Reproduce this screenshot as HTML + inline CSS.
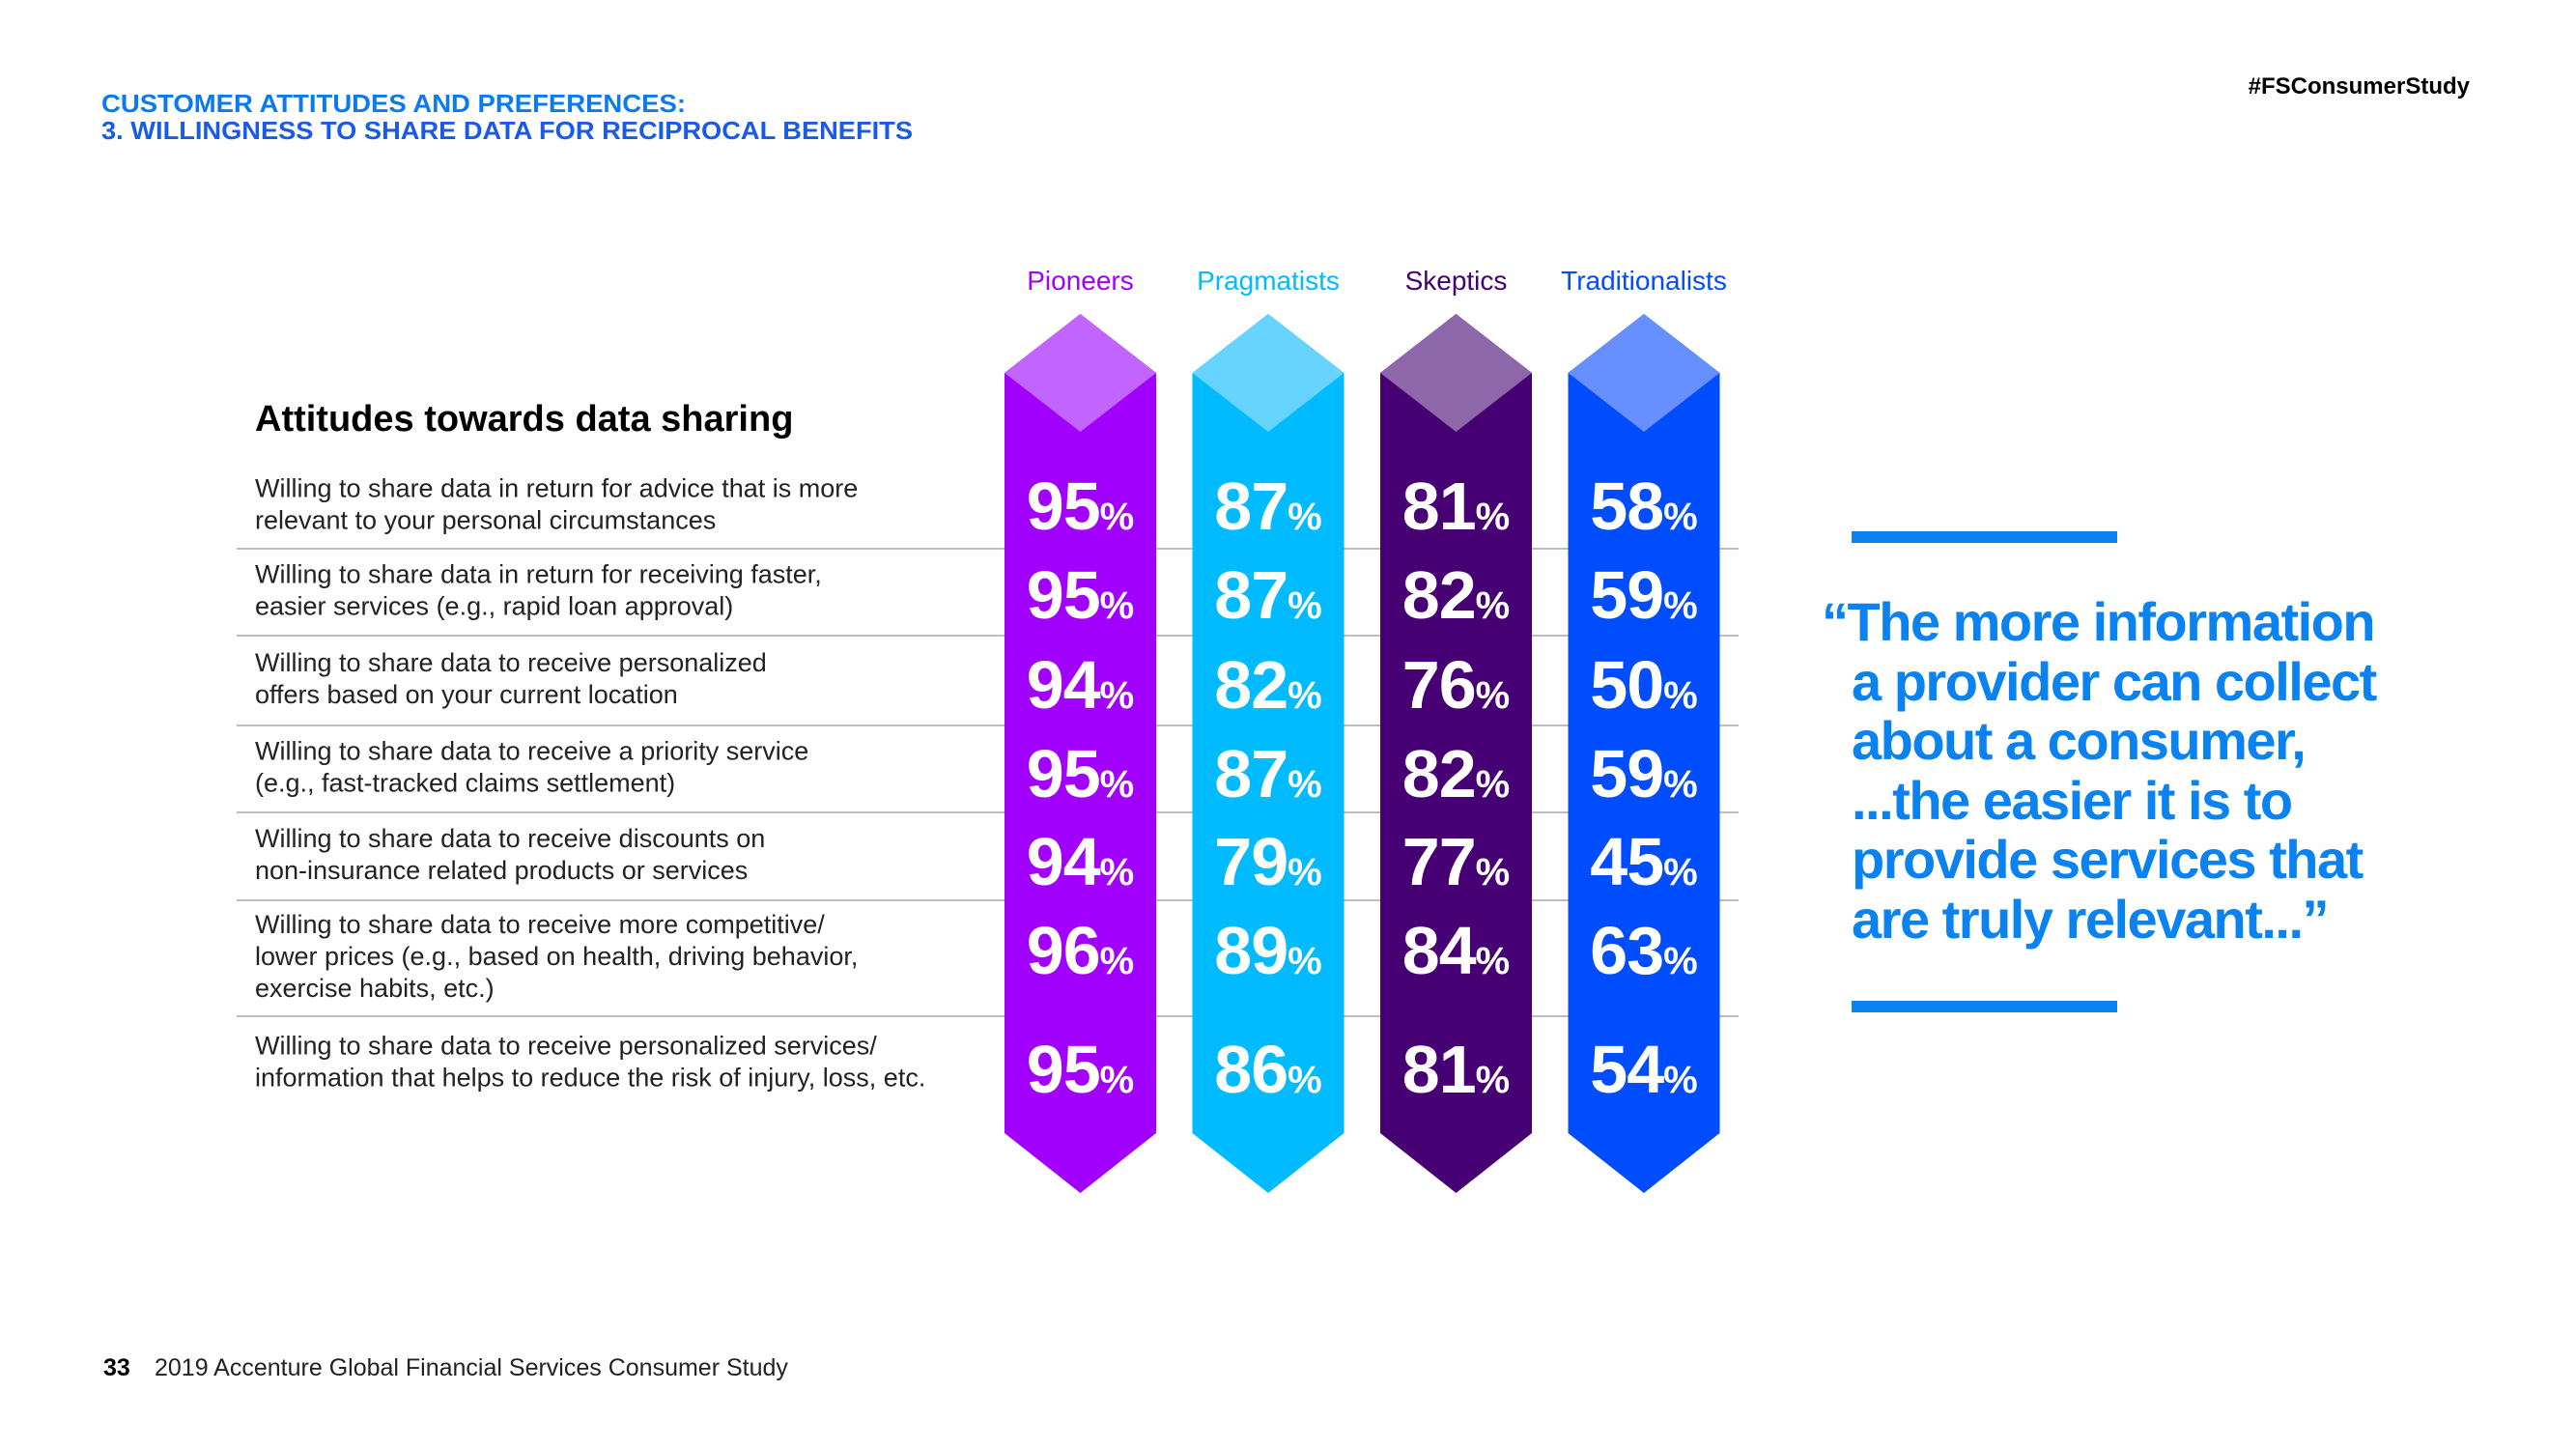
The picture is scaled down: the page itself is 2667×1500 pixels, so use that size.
<!DOCTYPE html>
<html><head><meta charset="utf-8"><style>
body{margin:0;background:#fff;}
svg{display:block;font-family:"Liberation Sans",sans-serif;}
</style></head><body>
<svg id="chart" width="2667" height="1500" viewBox="0 0 2667 1500" xmlns="http://www.w3.org/2000/svg">
<text x="105" y="116" font-size="26" font-weight="bold" fill="#0a7af0" textLength="605" lengthAdjust="spacingAndGlyphs">CUSTOMER ATTITUDES AND PREFERENCES:</text>
<text x="105" y="144" font-size="26" font-weight="bold" fill="#1a5ae8" textLength="840" lengthAdjust="spacingAndGlyphs">3. WILLINGNESS TO SHARE DATA FOR RECIPROCAL BENEFITS</text>
<text x="2557" y="97" font-size="24" font-weight="bold" fill="#000" text-anchor="end">#FSConsumerStudy</text>
<text x="264" y="446" font-size="38" font-weight="bold" fill="#000">Attitudes towards data sharing</text>
<g id="rows"></g>
<g id="cols"></g>
<g id="nums"></g>
<rect x="1917" y="550" width="275" height="12" fill="#0a82ef"/>
<rect x="1917" y="1036" width="275" height="12" fill="#0a82ef"/>
<g font-size="56" font-weight="bold" fill="#0a82ef" letter-spacing="-1.5">
<text x="1886" y="663">“The more information</text>
<text x="1917" y="725">a provider can collect</text>
<text x="1917" y="786">about a consumer,</text>
<text x="1917" y="848">...the easier it is to</text>
<text x="1917" y="909">provide services that</text>
<text x="1917" y="971">are truly relevant...”</text>
</g>
<text x="107" y="1424" font-size="25" font-weight="bold" fill="#000">33</text>
<text x="160" y="1424" font-size="25" fill="#222">2019 Accenture Global Financial Services Consumer Study</text>
</svg>
<script>
const segments = ["Pioneers","Pragmatists","Skeptics","Traditionalists"];
const pioneers = [95,95,94,95,94,96,95];
const pragmatists = [87,87,82,87,79,89,86];
const skeptics = [81,82,76,82,77,84,81];
const traditionalists = [58,59,50,59,45,63,54];
const statements = [
 ["Willing to share data in return for advice that is more","relevant to your personal circumstances"],
 ["Willing to share data in return for receiving faster,","easier services (e.g., rapid loan approval)"],
 ["Willing to share data to receive personalized","offers based on your current location"],
 ["Willing to share data to receive a priority service","(e.g., fast-tracked claims settlement)"],
 ["Willing to share data to receive discounts on","non-insurance related products or services"],
 ["Willing to share data to receive more competitive/","lower prices (e.g., based on health, driving behavior,","exercise habits, etc.)"],
 ["Willing to share data to receive personalized services/","information that helps to reduce the risk of injury, loss, etc."]
];
const series=[pioneers,pragmatists,skeptics,traditionalists];
const NS="http://www.w3.org/2000/svg";
const colMain=["#a100ff","#00bbff","#460073","#004dff"];
const colLight=["#c264ff","#66d4ff","#8e66aa","#6690ff"];
const rowTop=[480,568,658,751,841,932,1052];
const rowBot=[568,658,751,841,932,1052,1150];
const colX=i=>1040+i*194.5, colW=157;
function el(t,a,p){const e=document.createElementNS(NS,t);for(const k in a)e.setAttribute(k,a[k]);p.appendChild(e);return e;}
const rows=document.getElementById('rows'),cols=document.getElementById('cols'),nums=document.getElementById('nums');
statements.forEach((lines,r)=>{
  const n=lines.length, cy=(r<6? (rowTop[r]+rowBot[r])/2 : 1101);
  const y0=cy-(n-1)*33/2+7;
  lines.forEach((s,j)=>{
    const t=el('text',{x:264,y:y0+j*33,'font-size':27,fill:'#222'},rows);
    
    
    t.textContent=s;
  });
  if(r<6){
    const l=el('line',{x1:245,x2:1800,y1:rowBot[r],y2:rowBot[r],stroke:'#bdbdbd','stroke-width':2},rows);
    
    
  }
});
segments.forEach((s,i)=>{
  const x=colX(i),cx=x+colW/2;
  const lab=el('text',{x:cx,y:300,'font-size':28,fill:colMain[i],'text-anchor':'middle'},cols);
  
  
  lab.textContent=s;
  const p=el('polygon',{points:`${cx},325 ${x+colW},386 ${x+colW},1173 ${cx},1235 ${x},1173 ${x},386`,fill:colMain[i]},cols);
  
  
  const d=el('polygon',{points:`${cx},325 ${x+colW},386 ${cx},447 ${x},386`,fill:colLight[i]},cols);
  
  
  series[i].forEach((v,r)=>{
    const cy=[523,615,708,800,891,983,1106][r];
    const t=el('text',{x:cx,y:cy+25,'text-anchor':'middle',fill:'#fff','font-weight':'bold'},nums);
    
    
    const a=el('tspan',{'font-size':70,'letter-spacing':'-1'},t);a.textContent=v;
    const b=el('tspan',{'font-size':40},t);b.textContent='%';
  });
});
</script>
</body></html>
